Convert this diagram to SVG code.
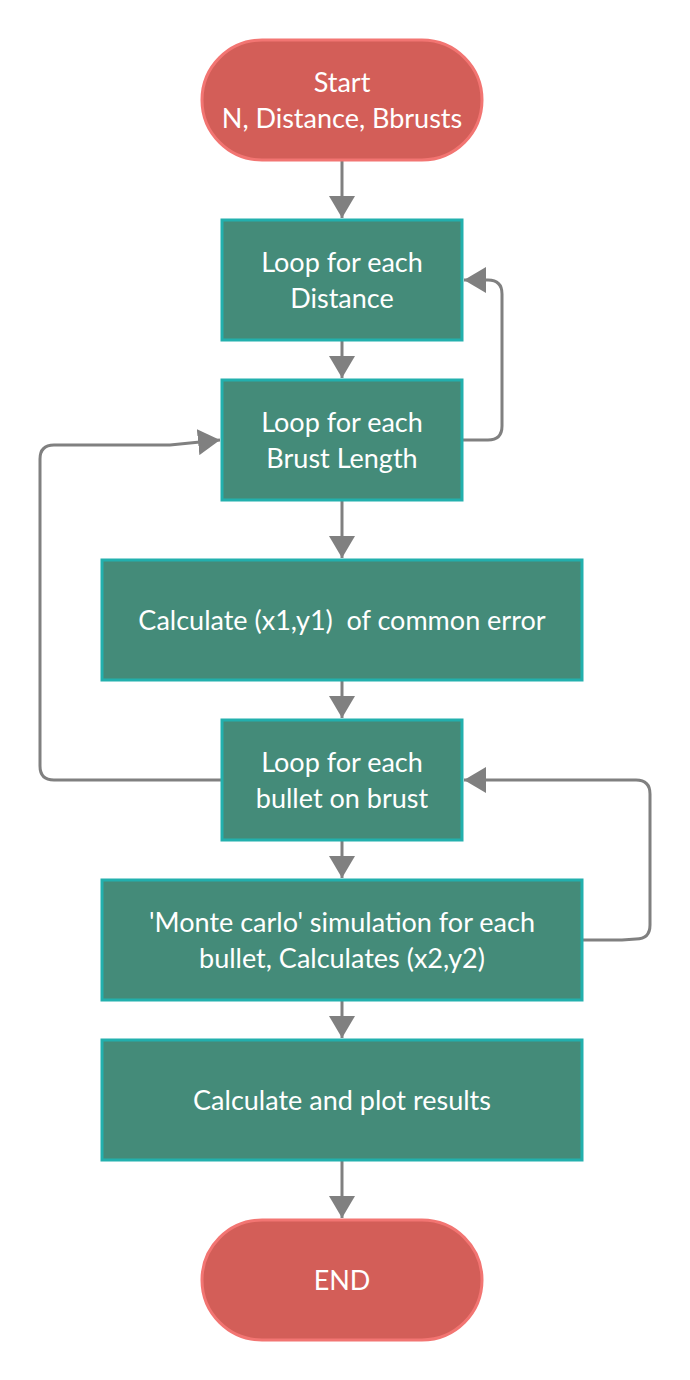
<svg xmlns="http://www.w3.org/2000/svg" width="690" height="1380" viewBox="0 0 690 1380">
<style>
.term{fill:#d35e58;stroke:#f27572;stroke-width:3}
.box{fill:#448b79;stroke:#22b0ad;stroke-width:3}
.t{font-family:Lato,"Open Sans","Liberation Sans",sans-serif;font-size:27px;fill:#ffffff;text-anchor:middle;white-space:pre}
.c{fill:none;stroke:#808080;stroke-width:3}
</style>
<defs>
<marker id="ah" markerUnits="userSpaceOnUse" markerWidth="26" markerHeight="26" viewBox="0 0 26 26" refX="22" refY="13" orient="auto">
<path d="M0,0 L22,13 L0,26 Z" fill="#808080"/>
</marker>
</defs>
<rect width="690" height="1380" fill="#ffffff"/>
<g id="connectors">
<path class="c" d="M342,160 V218" marker-end="url(#ah)"/>
<path class="c" d="M342,340 V378" marker-end="url(#ah)"/>
<path class="c" d="M342,500 V558" marker-end="url(#ah)"/>
<path class="c" d="M342,680 V718" marker-end="url(#ah)"/>
<path class="c" d="M342,840 V878" marker-end="url(#ah)"/>
<path class="c" d="M342,1000 V1038" marker-end="url(#ah)"/>
<path class="c" d="M342,1160 V1218" marker-end="url(#ah)"/>
<path class="c" d="M462,440 H488 Q502,440 502,426 V294 Q502,280 488,280 H464" marker-end="url(#ah)"/>
<path class="c" d="M222,780 H54 Q40,780 40,766 V459 Q40,445 54,445 H170 L220,440" marker-end="url(#ah)"/>
<path class="c" d="M582,940 H622 L636,939 Q650,939 650,925 V794 Q650,780 636,780 H464" marker-end="url(#ah)"/>
</g>
<g id="start">
<rect class="term" x="202" y="40" width="280" height="120" rx="60" ry="60"/>
<text class="t" x="342" y="92">Start</text>
<text class="t" x="342" y="128">N, Distance, Bbrusts</text>
</g>
<g id="loop-distance">
<rect class="box" x="222" y="220" width="240" height="120"/>
<text class="t" x="342" y="272">Loop for each</text>
<text class="t" x="342" y="308">Distance</text>
</g>
<g id="loop-brust-length">
<rect class="box" x="222" y="380" width="240" height="120"/>
<text class="t" x="342" y="432">Loop for each</text>
<text class="t" x="342" y="468">Brust Length</text>
</g>
<g id="calc-common">
<rect class="box" x="102" y="560" width="480" height="120"/>
<text class="t" x="342" y="630">Calculate (x1,y1)  of common error</text>
</g>
<g id="loop-bullet">
<rect class="box" x="222" y="720" width="240" height="120"/>
<text class="t" x="342" y="772">Loop for each</text>
<text class="t" x="342" y="808">bullet on brust</text>
</g>
<g id="monte-carlo">
<rect class="box" x="102" y="880" width="480" height="120"/>
<text class="t" x="342" y="932">'Monte carlo' simulation for each</text>
<text class="t" x="342" y="968">bullet, Calculates (x2,y2)</text>
</g>
<g id="calc-plot">
<rect class="box" x="102" y="1040" width="480" height="120"/>
<text class="t" x="342" y="1110">Calculate and plot results</text>
</g>
<g id="end">
<rect class="term" x="202" y="1220" width="280" height="120" rx="60" ry="60"/>
<text class="t" x="342" y="1290">END</text>
</g>
</svg>
